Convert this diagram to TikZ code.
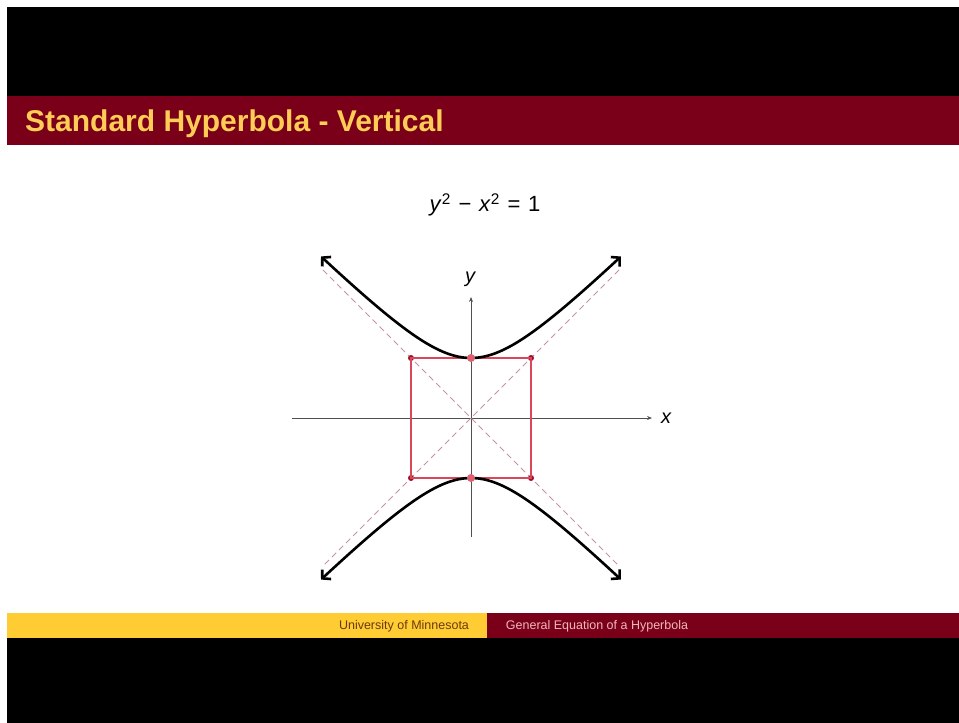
\documentclass[tikz,border=0pt]{standalone}
\usepackage{fontspec}
\setmainfont{Liberation Sans}
\usetikzlibrary{arrows.meta}
\definecolor{umred}{HTML}{7A0019}
\definecolor{umgold}{HTML}{FFCC33}
\definecolor{titlegold}{HTML}{FFCC55}
\definecolor{boxred}{HTML}{D84858}
\definecolor{dotred}{HTML}{A01030}
\definecolor{vtxred}{HTML}{E06070}
\definecolor{asym}{HTML}{C8949C}
\definecolor{axgray}{HTML}{505050}
\definecolor{footpink}{HTML}{F0B8B8}
\definecolor{footbrown}{HTML}{6A3A10}
\tikzset{
  titletext/.style={anchor=base west,inner sep=0pt,text=titlegold,font=\bfseries\fontsize{30}{36}\selectfont},
  footgold/.style={inner sep=0pt,text=footbrown,font=\fontsize{12.5}{14}\selectfont},
  footred/.style={inner sep=0pt,text=footpink,font=\fontsize{12.5}{14}\selectfont},
  eqtext/.style={inner sep=0pt,font=\fontsize{22}{26}\selectfont},
  axisline/.style={axgray,line width=0.8pt,-{Stealth[length=5pt,width=4pt]}},
  axlabel/.style={inner sep=0pt,font=\itshape\fontsize{20}{24}\selectfont},
  asymline/.style={asym,line width=1pt,dash pattern=on 6pt off 4pt},
  boxline/.style={boxred,line width=1.2pt},
  curveline/.style={black,line width=2.6pt,{Straight Barb[length=6pt,width=13pt]}-{Straight Barb[length=6pt,width=13pt]}},
  cornerdot/.style={circle,fill=dotred,inner sep=0pt,minimum size=6pt},
  vtxdot/.style={circle,fill=vtxred,inner sep=0pt,minimum size=8pt}
}
\begin{document}
\begin{tikzpicture}[x=1pt,y=-1pt]
\useasboundingbox (0,0) rectangle (959,723);
\fill[white] (0,0) rectangle (959,723);
\fill[black] (7,7) rectangle (959,96);
\fill[umred] (7,96) rectangle (959,145);
\node[titletext] (title) at (25,131) {Standard Hyperbola - Vertical};
\fill[umgold] (7,613) rectangle (487,638);
\fill[umred] (487,613) rectangle (959,638);
\fill[black] (7,638) rectangle (959,723);
\node[footgold] (foot1) at (404,626) {University of Minnesota};
\node[footred] (foot2) at (597,626) {General Equation of a Hyperbola};
\node[eqtext] (eq) at (485,205) {\textit{y}\textsuperscript{2}\hspace{0.35em}−\hspace{0.35em}\textit{x}\textsuperscript{2}\hspace{0.35em}=\hspace{0.35em}1};
% plot
\coordinate (O) at (471,418);
\coordinate (xl) at (292,418);
\coordinate (xr) at (652,418);
\coordinate (yb) at (471,537);
\coordinate (yt) at (471,297);
\draw[axisline] (xl) -- (xr);
\draw[axisline] (yb) -- (yt);
\node[axlabel] (xlab) at (666,418) {x};
\node[axlabel] (ylab) at (470,279) {y};
% asymptotes
\coordinate (a1) at (323,270);
\coordinate (a2) at (619,566);
\coordinate (a3) at (619,270);
\coordinate (a4) at (323,566);
\draw[asymline] (a1) -- (a2);
\draw[asymline] (a3) -- (a4);
% box
\node[cornerdot] (c1) at (411,358) {};
\node[cornerdot] (c2) at (531,358) {};
\node[cornerdot] (c3) at (531,478) {};
\node[cornerdot] (c4) at (411,478) {};
\draw[boxline] (c1.center) -- (c2.center) -- (c3.center) -- (c4.center) -- cycle;
% hyperbola
\draw[curveline] plot[domain=-2.5:2.5,samples=80,smooth] ({471+60*\x},{418-60*sqrt(1+\x*\x)});
\draw[curveline] plot[domain=-2.5:2.5,samples=80,smooth] ({471+60*\x},{418+60*sqrt(1+\x*\x)});
\node[vtxdot] (v1) at (471,358) {};
\node[vtxdot] (v2) at (471,478) {};
\end{tikzpicture}
\end{document}
